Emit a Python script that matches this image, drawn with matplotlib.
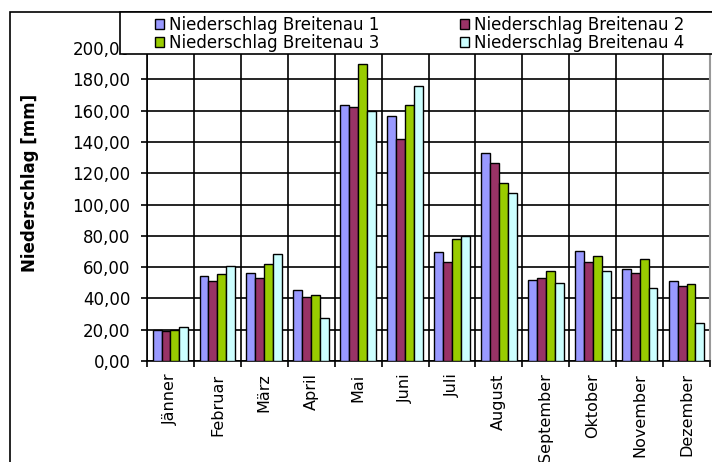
import numpy as np
import matplotlib.pyplot as plt
from matplotlib.patches import Rectangle

# Monate und Niederschlag (mm) der vier Stationen
monate = ['Jänner', 'Februar', 'März', 'April', 'Mai', 'Juni', 'Juli',
          'August', 'September', 'Oktober', 'November', 'Dezember']
breitenau_1 = [19.8, 54.2, 56.3, 45.6, 163.3, 156.8, 69.4, 133.2, 52.0, 70.4, 58.5, 51.0]
breitenau_2 = [19.2, 51.0, 53.1, 41.1, 162.2, 142.1, 63.1, 126.5, 53.1, 63.1, 56.3, 47.7]
breitenau_3 = [19.8, 55.3, 61.9, 42.2, 189.8, 163.3, 78.0, 113.5, 57.4, 66.9, 65.0, 49.5]
breitenau_4 = [21.6, 60.6, 68.6, 27.5, 160.0, 175.6, 79.8, 107.2, 49.9, 57.4, 46.5, 24.0]

serien = [breitenau_1, breitenau_2, breitenau_3, breitenau_4]
namen = ['Niederschlag Breitenau 1', 'Niederschlag Breitenau 2',
         'Niederschlag Breitenau 3', 'Niederschlag Breitenau 4']
farben = ['#9999FF', '#993366', '#99CC00', '#CCFFFF']

plt.rcParams['font.family'] = 'DejaVu Sans'
plt.rcParams['font.size'] = 12

W, H = 712, 462
fig = plt.figure(figsize=(W / 100, H / 100), dpi=100)

# Rahmen um das ganze Diagramm
fig.patches.append(Rectangle((10 / W, -0.05), 1.1, 1 - 12 / H + 0.05,
                             transform=fig.transFigure, fill=False,
                             edgecolor='black', linewidth=1.2, zorder=0))

ax = fig.add_axes([147 / W, 1 - 361 / H, (710 - 147) / W, (361 - 48) / H])

x = np.arange(len(monate))
b = 0.19
for k, (werte, name, farbe) in enumerate(zip(serien, namen, farben)):
    ax.bar(x + (k - 1.5) * b, werte, width=b, color=farbe, edgecolor='black',
           linewidth=1.0, label=name, zorder=3)

ax.set_xlim(-0.5, len(monate) - 0.5)
ax.set_ylim(0, 200)
ax.set_yticks(np.arange(0, 201, 20))
ax.set_yticklabels([f'{v:.2f}'.replace('.', ',') for v in np.arange(0, 201, 20)])
ax.set_xticks(x)
ax.set_xticklabels(monate, rotation=90, fontsize=11.5)
ax.set_xticks(np.arange(-0.5, len(monate), 1), minor=True)

ax.tick_params(axis='x', which='major', length=0, pad=9)
ax.tick_params(axis='x', which='minor', length=4, width=1.2, direction='out')
ax.tick_params(axis='y', length=4, width=1.2, pad=8)

ax.grid(True, axis='y', which='major', color='black', linewidth=1.2, zorder=0)
ax.grid(True, axis='x', which='minor', color='black', linewidth=1.2, zorder=0)
ax.set_axisbelow(True)

for s in ['left', 'bottom', 'top']:
    ax.spines[s].set_linewidth(1.2)
ax.spines['right'].set_color('#999999')
ax.spines['right'].set_linewidth(1.5)

fig.text(30 / W, 1 - 183 / H, 'Niederschlag [mm]', rotation=90, fontweight='bold',
         ha='center', va='center')

# Legendenkasten (reicht bis über den rechten Rand hinaus)
fig.patches.append(Rectangle((120 / W, 1 - 54 / H), 1, 42 / H,
                             transform=fig.transFigure, facecolor='white',
                             edgecolor='black', linewidth=1.2, zorder=5))

h, l = ax.get_legend_handles_labels()
reihenfolge = [0, 2, 1, 3]
leg = fig.legend([h[i] for i in reihenfolge], [l[i] for i in reihenfolge],
                 loc='upper left', bbox_to_anchor=(155 / W, 1 - 15.5 / H),
                 ncol=2, frameon=False, fontsize=12,
                 handlelength=0.55, handleheight=0.55, handletextpad=0.3,
                 labelspacing=0.0, borderpad=0, borderaxespad=0,
                 columnspacing=4.8)
leg.set_zorder(10)

fig.savefig('out.png', dpi=100)
